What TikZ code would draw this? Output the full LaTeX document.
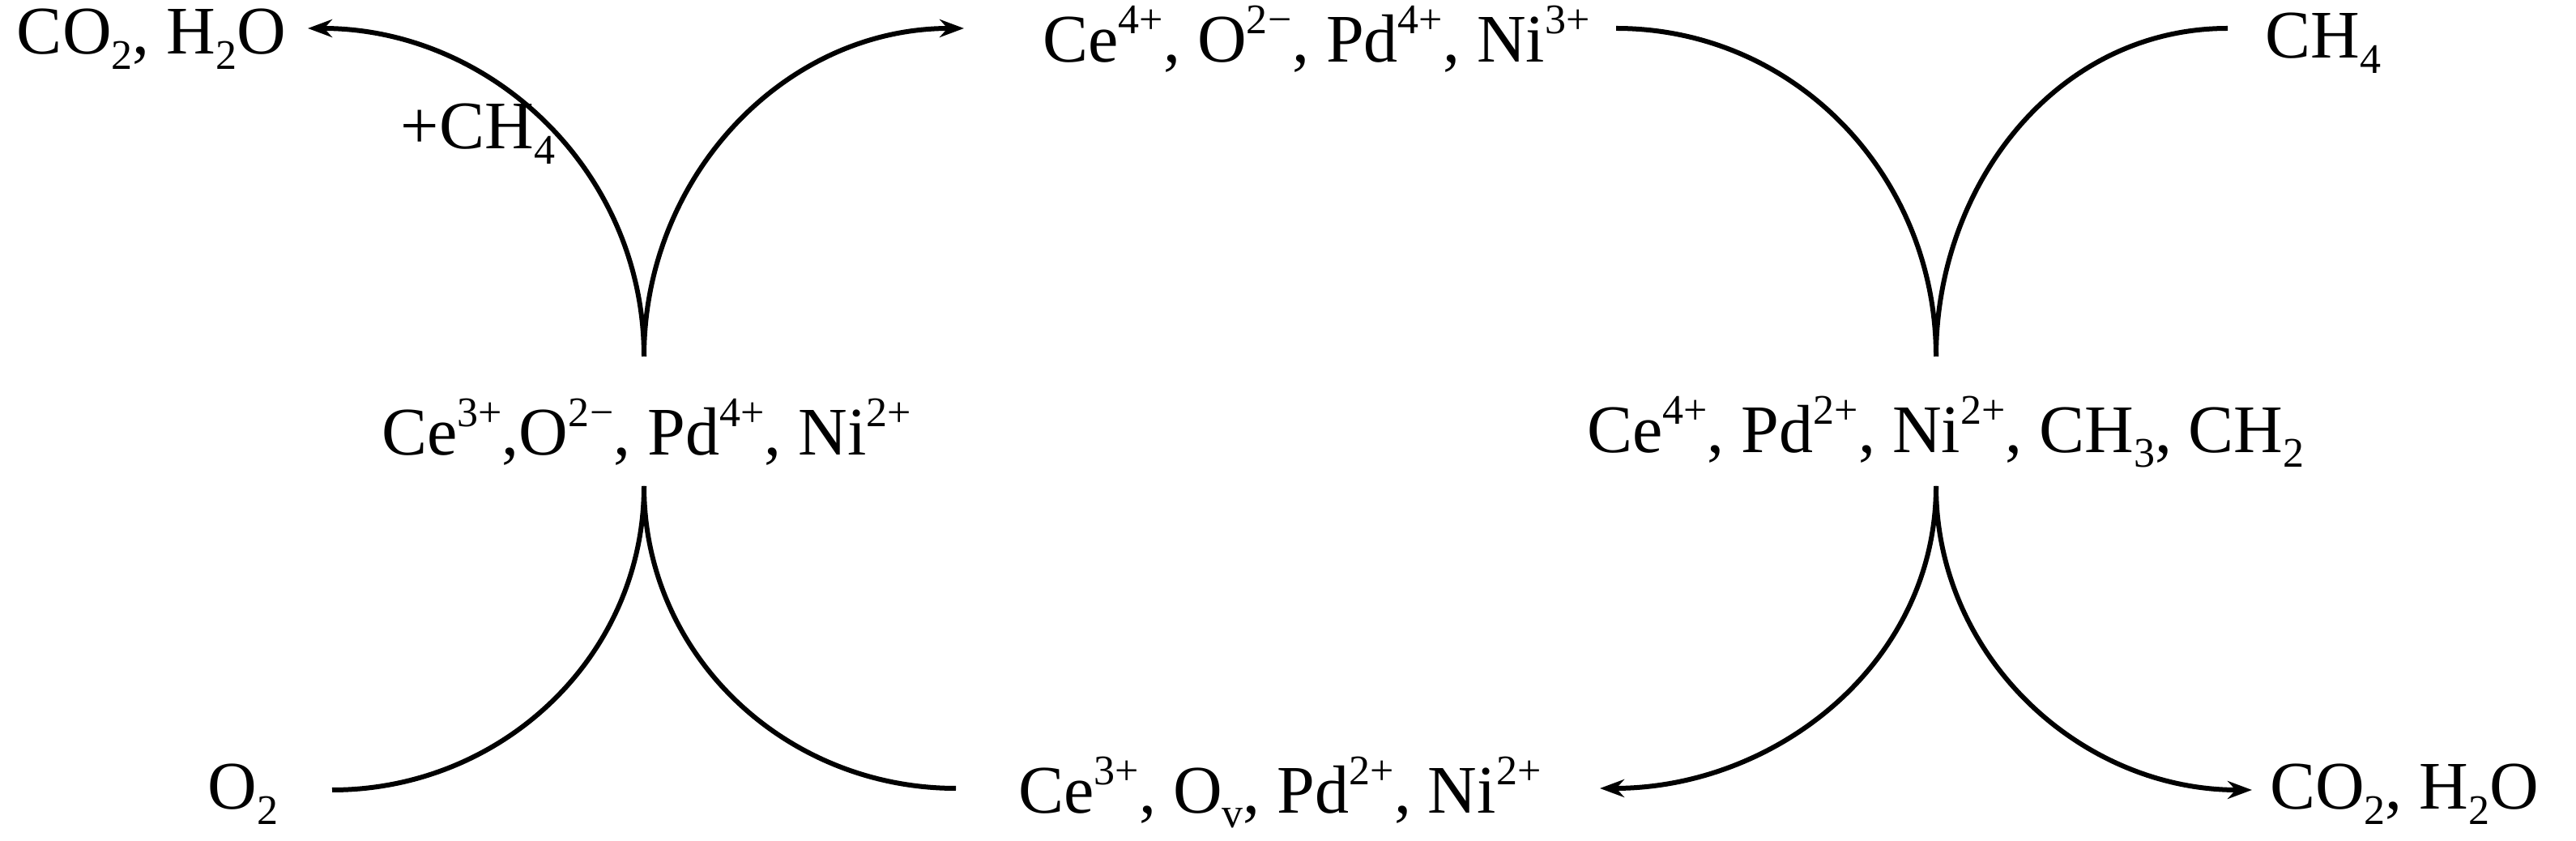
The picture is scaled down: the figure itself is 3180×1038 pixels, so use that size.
\documentclass[tikz,border=0pt]{standalone}
\usepackage{fontspec}
\setmainfont{Liberation Serif}
\usetikzlibrary{arrows.meta}
\newcommand\sps[1]{\raisebox{0.42em}{\fontsize{52}{55}\selectfont #1}}
\newcommand\sbs[1]{\raisebox{-0.22em}{\fontsize{52}{55}\selectfont #1}}
\begin{document}
\begin{tikzpicture}[x=1pt,y=1pt,
 lbl/.style={inner sep=0pt,font=\fontsize{84}{88}\selectfont},
 cv/.style={line width=6pt},
 ar/.style={cv,-{Stealth[length=30pt,width=22pt]}}]
\useasboundingbox (0,0) rectangle (3180,1038);
\node[lbl] (tl) at (187,990) {CO\sbs{2}, H\sbs{2}O};
\node[lbl] (tm) at (1625,990) {Ce\sps{4+}, O\sps{2\kern1pt−}, Pd\sps{4+}, Ni\sps{3+}};
\node[lbl] (ch) at (2868,985) {CH\sbs{4}};
\node[lbl] (pc) at (590,873) {+CH\sbs{4}};
\node[lbl] (lm) at (798,505) {Ce\sps{3+},O\sps{2\kern1pt−}, Pd\sps{4+}, Ni\sps{2+}};
\node[lbl] (rm) at (2402,505) {Ce\sps{4+}, Pd\sps{2+}, Ni\sps{2+}, CH\sbs{3}, CH\sbs{2}};
\node[lbl] (o2) at (300,58) {O\sbs{2}};
\node[lbl] (bm) at (1580,60) {Ce\sps{3+}, O\sbs{v}, Pd\sps{2+}, Ni\sps{2+}};
\node[lbl] (br) at (2968,58) {CO\sbs{2}, H\sbs{2}O};
\coordinate (lt) at (795,598); \coordinate (lb) at (795,438);
\coordinate (rt) at (2390,598); \coordinate (rb) at (2390,438);
\coordinate (e1) at (380,1003); \coordinate (e2) at (1190,1003);
\coordinate (e3) at (410,63); \coordinate (e4) at (1180,65);
\coordinate (e5) at (1995,1003); \coordinate (e6) at (2750,1003);
\coordinate (e7) at (1975,65); \coordinate (e8) at (2780,63);
\draw[ar] (lt) to[out=90,in=0] (e1);
\draw[ar] (lt) to[out=90,in=180] (e2);
\draw[cv] (e3) to[out=0,in=-90] (lb);
\draw[cv] (e4) to[out=180,in=-90] (lb);
\draw[cv] (e5) to[out=0,in=90] (rt);
\draw[cv] (e6) to[out=180,in=90] (rt);
\draw[ar] (rb) to[out=-90,in=0] (e7);
\draw[ar] (rb) to[out=-90,in=180] (e8);
\end{tikzpicture}
\end{document}
